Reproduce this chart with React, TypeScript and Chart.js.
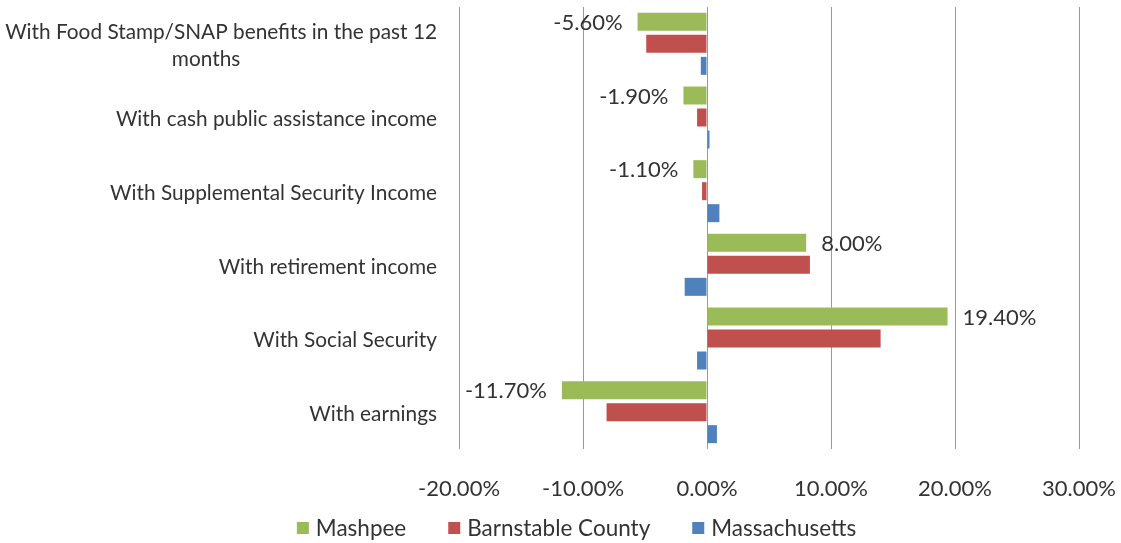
import React, { useEffect, useRef } from "react";
import { Chart, registerables } from "chart.js";

Chart.register(...registerables);

// ---- data ----
const categoryLines: string[][] = [
  ["With Food Stamp/SNAP benefits in the past 12", "months"],
  ["With cash public assistance income"],
  ["With Supplemental Security Income"],
  ["With retirement income"],
  ["With Social Security"],
  ["With earnings"],
];
const seriesNames = ["Mashpee", "Barnstable County", "Massachusetts"];
const mashpee = [-5.6, -1.9, -1.1, 8.0, 19.4, -11.7];
const barnstable = [-4.9, -0.8, -0.4, 8.3, 14.0, -8.1];
const massachusetts = [-0.5, 0.2, 1.0, -1.8, -0.8, 0.8];
const xTickValues = [-20, -10, 0, 10, 20, 30];
const seriesColors = ["#9BBB59", "#C0504D", "#4F81BD"];

// ---- style ----
const FONT = "Lato";
const FS_TICK = 22;
const FS_CAT = 20.8;
const FS_LEG = 22.5;
const TEXT = "#333333";
const GRID = "#9a9a9a";
const W = 1121;
const H = 543;
const PLOT_TOP = 7;
const PLOT_BOTTOM = 449;
const PLOT_LEFT = 459;
const PLOT_RIGHT = 1079;
const X_AXIS_H = 62;
const LEGEND_CENTER_Y = 528;
const LEGEND_GAP = 42;
const LEGEND_CENTER_X = 576.5;
const TICK_CENTER_Y = 489;

const fmt = (v: number) => v.toFixed(2) + "%";

const pctLabelsPlugin = {
  id: "pctLabels",
  afterDatasetsDraw(chart: any) {
    const ctx = chart.ctx;
    const meta = chart.getDatasetMeta(0);
    ctx.save();
    ctx.font = `${FS_TICK}px ${FONT}`;
    ctx.fillStyle = TEXT;
    ctx.textBaseline = "middle";
    meta.data.forEach((bar: any, i: number) => {
      const v = mashpee[i];
      if (v < 0) {
        ctx.textAlign = "right";
        ctx.fillText(fmt(v), bar.x - 15, bar.y + 1);
      } else {
        ctx.textAlign = "left";
        ctx.fillText(fmt(v), bar.x + 15, bar.y + 1);
      }
    });
    ctx.restore();
  },
};

const catLabelsPlugin = {
  id: "catLabels",
  afterDraw(chart: any) {
    const ctx = chart.ctx;
    const y = chart.scales.y;
    const right = chart.chartArea.left - 22;
    const lh = 27.5;
    ctx.save();
    ctx.font = `${FS_CAT}px ${FONT}`;
    ctx.fillStyle = TEXT;
    ctx.textBaseline = "middle";
    categoryLines.forEach((lines, i) => {
      const cy = y.getPixelForValue(i);
      const startY = cy - ((lines.length - 1) * lh) / 2;
      const w0 = ctx.measureText(lines[0]).width;
      lines.forEach((line, j) => {
        if (j === 0) {
          ctx.textAlign = "right";
          ctx.fillText(line, right, startY + 2);
        } else {
          ctx.textAlign = "center";
          ctx.fillText(line, right - w0 / 2 - 15, startY + j * lh + 2);
        }
      });
    });
    ctx.restore();
  },
};

const legendPlugin = {
  id: "customLegend",
  afterDraw(chart: any) {
    const ctx = chart.ctx;
    ctx.save();
    ctx.font = `${FS_LEG}px ${FONT}`;
    ctx.textBaseline = "middle";
    ctx.textAlign = "left";
    const box = 12;
    const gap = 7;
    const widths = seriesNames.map((n) => ctx.measureText(n).width);
    const total =
      widths.reduce((a, w) => a + box + gap + w, 0) + LEGEND_GAP * (seriesNames.length - 1);
    let x = LEGEND_CENTER_X - total / 2;
    seriesNames.forEach((n, k) => {
      ctx.fillStyle = seriesColors[k];
      ctx.fillRect(x, LEGEND_CENTER_Y - box / 2, box, box);
      ctx.fillStyle = TEXT;
      ctx.fillText(n, x + box + gap, LEGEND_CENTER_Y + 1);
      x += box + gap + widths[k] + LEGEND_GAP;
    });
    ctx.restore();
  },
};

export default function App() {
  const ref = useRef<HTMLCanvasElement | null>(null);
  useEffect(() => {
    document.body.style.margin = "0";
    const canvas = ref.current;
    if (!canvas) return;
    const padBottom = H - PLOT_BOTTOM - X_AXIS_H;
    const tickPad = TICK_CENTER_Y - PLOT_BOTTOM - (FS_TICK * 1.2) / 2;

    const chart = new Chart(canvas, {
      type: "bar",
      data: {
        labels: categoryLines.map((l) => l.join(" ")),
        datasets: [mashpee, barnstable, massachusetts].map((d, k) => ({
          label: seriesNames[k],
          data: d,
          backgroundColor: seriesColors[k],
          borderWidth: 0,
          categoryPercentage: 0.896,
          barPercentage: 0.818,
        })),
      },
      options: {
        indexAxis: "y",
        responsive: false,
        animation: false,
        devicePixelRatio: 1,
        layout: {
          padding: { left: 0, right: 0, top: PLOT_TOP, bottom: padBottom },
        },
        scales: {
          x: {
            type: "linear",
            min: -20,
            max: 30,
            afterBuildTicks: (s: any) => {
              s.ticks = xTickValues.map((v) => ({ value: v }));
            },
            afterFit: (s: any) => {
              s.height = X_AXIS_H;
              s.paddingRight = W - PLOT_RIGHT;
            },
            ticks: {
              callback: (v: any) => fmt(Number(v)),
              font: { family: FONT, size: FS_TICK },
              color: TEXT,
              padding: tickPad,
              maxRotation: 0,
              autoSkip: false,
            },
            grid: { color: GRID, lineWidth: 1, drawTicks: false },
            border: { display: false },
          },
          y: {
            type: "category",
            ticks: { display: false },
            grid: { display: false },
            border: { display: false },
            afterFit: (s: any) => {
              s.width = PLOT_LEFT;
            },
          },
        },
        plugins: {
          tooltip: { enabled: false },
          legend: { display: false },
        },
      },
      plugins: [pctLabelsPlugin, catLabelsPlugin, legendPlugin],
    } as any);
    return () => chart.destroy();
  }, []);
  return (
    <div style={{ width: W, height: H, overflow: "hidden" }}>
      <canvas ref={ref} width={W} height={H} style={{ display: "block" }} />
    </div>
  );
}
